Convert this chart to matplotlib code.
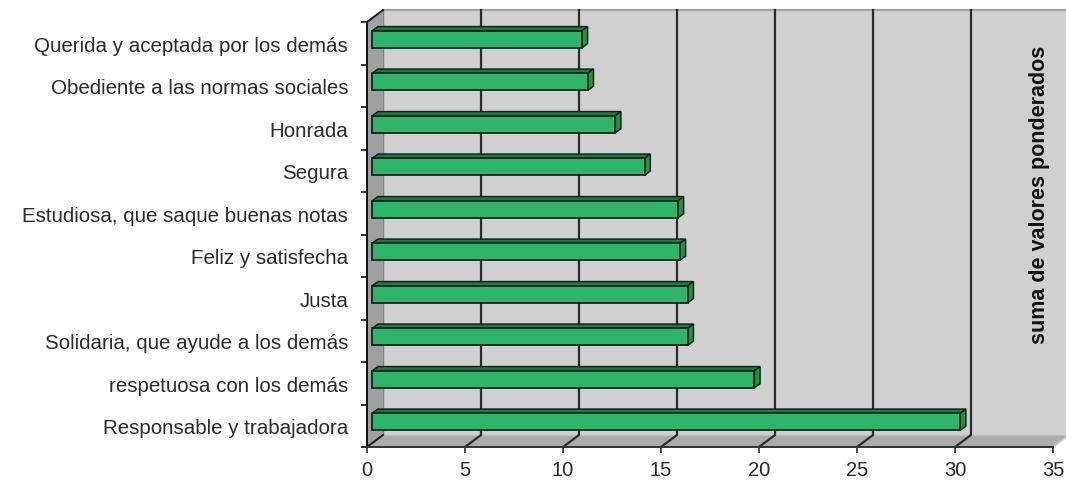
import matplotlib
matplotlib.use("Agg")
import matplotlib.pyplot as plt
from matplotlib.patches import Polygon
import numpy as np

# ---- data ----
categories = [
    "Querida y aceptada por los demás",
    "Obediente a las normas sociales",
    "Honrada",
    "Segura",
    "Estudiosa, que saque buenas notas",
    "Feliz y satisfecha",
    "Justa",
    "Solidaria, que ayude a los demás",
    "respetuosa con los demás",
    "Responsable y trabajadora",
]
values = [10.7, 11.0, 12.4, 13.9, 15.6, 15.7, 16.1, 16.1, 19.5, 30.0]
xticks = [0, 5, 10, 15, 20, 25, 30, 35]
axis_title = "suma de valores ponderados"

# ---- style ----
plt.rcParams['font.family'] = ['Liberation Sans', 'DejaVu Sans']
W, H = 1066, 481
fig = plt.figure(figsize=(W / 100, H / 100), dpi=100)
fig.patch.set_facecolor('white')

# front plane of the 3D box, in pixels
left_px, right_px, top_px, bot_px = 367, 1053, 23, 448
ax = fig.add_axes([left_px / W, (H - bot_px) / H,
                   (right_px - left_px) / W, (bot_px - top_px) / H])
xmin, xmax = 0, 35
n = len(categories)
ax.set_xlim(xmin, xmax)
ax.set_ylim(n - 0.5, -0.5)
ax.patch.set_visible(False)

px_x = (right_px - left_px) / (xmax - xmin)   # pixels per x unit
px_y = (bot_px - top_px) / n                   # pixels per category
DX = 16 / px_x          # depth offset in data units (x)
DY = 12 / px_y          # depth offset in data units (y, upward)

wall_c = '#d0d0d0'
side_wall_c = '#a0a0a0'
floor_c = '#ababab'
ytop, ybot = -0.5, n - 0.5

def poly(pts, fc, ec='none', lw=0, z=1):
    p = Polygon(pts, closed=True, facecolor=fc, edgecolor=ec, linewidth=lw,
                zorder=z, clip_on=False, joinstyle='miter')
    ax.add_patch(p)

# back wall
poly([(xmin + DX, ytop - DY), (xmax + DX + 2, ytop - DY),
      (xmax + DX + 2, ybot - DY), (xmin + DX, ybot - DY)], wall_c, z=0)
ax.plot([xmin + DX, xmax + DX + 2], [ytop - DY, ytop - DY], color='#a0a0a0',
        lw=1.5, clip_on=False, zorder=0.5)
ax.plot([xmin + DX, xmin + DX], [ytop - DY, ybot - DY], color='#808080',
        lw=1.0, clip_on=False, zorder=0.5)
# left wall
poly([(xmin, ybot), (xmin, ytop), (xmin + DX, ytop - DY), (xmin + DX, ybot - DY)],
     side_wall_c, z=0.6)
# floor
poly([(xmin, ybot), (xmax, ybot), (xmax + DX, ybot - DY), (xmin + DX, ybot - DY)],
     floor_c, z=0.6)
ax.plot([xmax, xmax + DX], [ybot, ybot - DY], color='#c8c8c8', lw=1.2,
        clip_on=False, zorder=0.7)
ax.plot([xmin + DX, xmax + DX + 2], [ybot - DY, ybot - DY], color='#bdbdbd',
        lw=1.0, clip_on=False, zorder=0.7)

# gridlines on back wall and floor
for v in xticks[1:-1]:
    ax.plot([v + DX, v + DX, v], [ytop - DY, ybot - DY, ybot], color='#2b2b2b',
            lw=1.6, clip_on=False, zorder=0.8, solid_joinstyle='miter')
# left wall edges
ax.plot([xmin, xmin + DX], [ytop, ytop - DY], color='#1a1a1a', lw=1.4,
        clip_on=False, zorder=0.9)
ax.plot([xmin, xmin + DX], [ybot, ybot - DY], color='#1a1a1a', lw=1.4,
        clip_on=False, zorder=0.9)

# ---- bars (3D look) ----
d0, d1 = 0.33, 0.68
bx0 = d0 * DX
bdx = (d1 - d0) * DX
bdy = (d1 - d0) * DY
bh = 0.40
front_c = '#2eb46b'
top_c = '#1d7a45'
side_c = '#22914f'
edge_c = '#0d2616'
ypos = np.arange(n) - d0 * DY
ax.barh(ypos, values, left=bx0, height=bh, color=front_c, edgecolor=edge_c,
        linewidth=1.3, zorder=3)
for yc, v in zip(ypos, values):
    yt, yb = yc - bh / 2, yc + bh / 2
    xr = bx0 + v
    poly([(bx0, yt), (xr, yt), (xr + bdx, yt - bdy), (bx0 + bdx, yt - bdy)],
         top_c, edge_c, 1.1, z=2.5)
    poly([(xr, yt), (xr, yb), (xr + bdx, yb - bdy), (xr + bdx, yt - bdy)],
         side_c, edge_c, 1.1, z=2.5)

# ---- axes / ticks ----
for s in ['top', 'right']:
    ax.spines[s].set_visible(False)
ax.spines['left'].set_color('#111111')
ax.spines['left'].set_linewidth(1.4)
ax.spines['left'].set_zorder(4)
ax.spines['bottom'].set_color('#333333')
ax.spines['bottom'].set_linewidth(1.4)
ax.spines['bottom'].set_zorder(4)

ax.set_xticks(xticks)
ax.set_xticklabels([str(t) for t in xticks], fontsize=14.5, color='#2a2a2a')
ax.tick_params(axis='x', length=4.5, width=1.2, color='#333333', pad=5)

ax.set_yticks(np.arange(n + 1) - 0.5)
ax.set_yticklabels([])
ax.set_yticks(np.arange(n), minor=True)
ax.set_yticklabels(categories, minor=True, fontsize=14.8, color='#2a2a2a')
ax.tick_params(axis='y', which='major', length=4.5, width=1.2, color='#111111')
ax.tick_params(axis='y', which='minor', length=0, pad=13.5)

fig.text(1039 / W, 1 - 195 / H, axis_title, rotation=90, ha='center',
         va='center', fontsize=15.5, fontweight='bold', color='#111111')

fig.savefig('out.png', dpi=100)
